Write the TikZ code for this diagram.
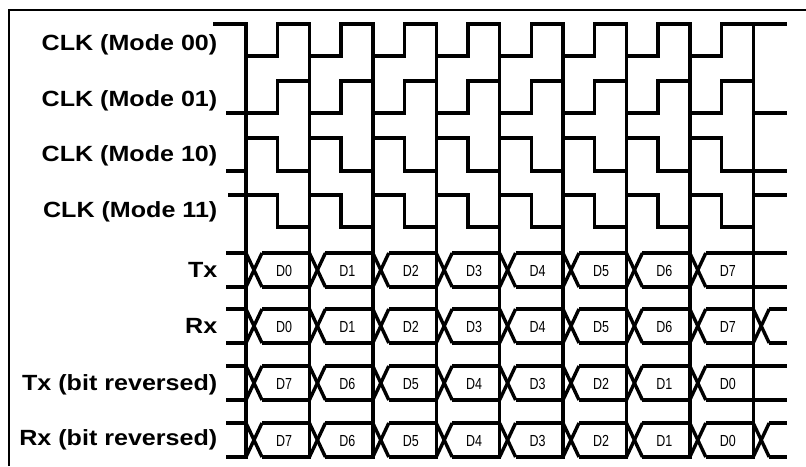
\documentclass[tikz,border=0pt]{standalone}
\usepackage{fontspec}
\setmainfont{Liberation Sans}
\newfontfamily\rotfont[FakeStretch=1.14]{Liberation Sans}
\newfontfamily\bitfont[FakeStretch=0.78]{Liberation Sans}

\begin{document}
\begin{tikzpicture}[x=1pt, y=-1pt, line width=3.4pt,
    rotulo/.style={anchor=base east, inner sep=0pt,
      font=\rotfont\bfseries\fontsize{22}{26}\selectfont},
    bit/.style={anchor=base, inner sep=0pt,
      font=\bitfont\fontsize{16}{19}\selectfont}]
  \useasboundingbox (0,0) rectangle (806,466);
  \def\sa{246}    % primeira linha de amostragem
  \def\per{63.4}  % periodo do clock
  \def\meio{31.7} % meio periodo
  \def\dx{16}     % largura do cruzamento dos dados

  % moldura (topo e lado esquerdo)
  \draw[line width=2.2pt] (9,466) -- (9,10) -- (806,10);

  % clocks: inicio / nivel de repouso / nivel ativo / atraso da 1a borda
  \foreach \ini/\yr/\ya/\off in {213/24/56/0, 226/113/81/\meio,
                                 226/171/138/0, 228/195/227/\meio}
    \draw (\ini,\yr) \foreach \k in {0,...,7}{
        -- ({\sa+\k*\per+\off},\yr) -- ({\sa+\k*\per+\off},\ya)
        -- ({\sa+\k*\per+\off+\meio},\ya) -- ({\sa+\k*\per+\off+\meio},\yr)}
      -- (787,\yr);

  % linhas de amostragem
  \foreach \k in {0,...,8}
    \draw ({\sa+\k*\per},22.3) -- ({\sa+\k*\per},459);

  % barramentos de dados: topo / base / cruzamento extra no fim
  \foreach \yt/\yb/\ex in {253/287/0, 309/343/1, 366/400/0, 423/457/1}{
    \foreach \y in {\yt,\yb}{
      \draw (226,\y) -- (\sa,\y);
      \foreach \k in {0,...,7}
        \draw ({\sa+\k*\per+\dx},\y) -- ({\sa+(\k+1)*\per},\y);
      \draw ({\sa+8*\per+\ex*\dx},\y) -- (787,\y);
    }
    \pgfmathtruncatemacro\nx{7+\ex}
    \foreach \k in {0,...,\nx}{
      \draw ({\sa+\k*\per},\yt) -- ({\sa+\k*\per+\dx},\yb);
      \draw ({\sa+\k*\per},\yb) -- ({\sa+\k*\per+\dx},\yt);
    }
  }

  % bits dentro de cada barramento
  \foreach \yc/\rev [count=\r] in {270/0, 326/0, 383/1, 440/1}
    \foreach \k in {0,...,7}{
      \pgfmathtruncatemacro\d{\rev*(7-\k)+(1-\rev)*\k}
      \node[bit] (d\r\k) at ({\sa+\k*\per+38},\yc+6) {D\d};
    }

  % rotulos dos sinais
  \node[rotulo] (m00) at (219,50)  {CLK (Mode 00)};
  \node[rotulo] (m01) at (219,106) {CLK (Mode 01)};
  \node[rotulo] (m10) at (219,161) {CLK (Mode 10)};
  \node[rotulo] (m11) at (219,217) {CLK (Mode 11)};
  \node[rotulo] (tx)  at (219,277) {Tx};
  \node[rotulo] (rx)  at (219,333) {Rx};
  \node[rotulo] (txr) at (219,390) {Tx (bit reversed)};
  \node[rotulo] (rxr) at (219,445) {Rx (bit reversed)};
\end{tikzpicture}
\end{document}
